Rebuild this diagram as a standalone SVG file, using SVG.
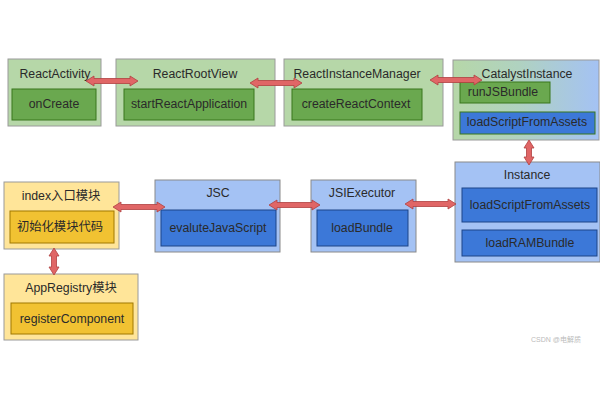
<svg xmlns="http://www.w3.org/2000/svg" width="600" height="400" viewBox="0 0 600 400">
<defs>
<linearGradient id="gcat" x1="0" y1="0" x2="1" y2="0">
<stop offset="0" stop-color="#b6d7a8"/>
<stop offset="0.45" stop-color="#b0d2c0"/>
<stop offset="1" stop-color="#a4c2f4"/>
</linearGradient>
<style>
text{font-family:"Liberation Sans","Noto Sans CJK SC",Arial,sans-serif;font-size:12.3px;text-anchor:middle;dominant-baseline:middle;fill:#2a2a2a}
.go{fill:#b6d7a8;stroke:#9a9a9a;stroke-width:1}
.gi{fill:#6aa84f;stroke:#38761d;stroke-width:1}
.bo{fill:#a4c2f4;stroke:#8a8a8a;stroke-width:1}
.bi{fill:#3c78d8;stroke:#1c4587;stroke-width:1}
.yo{fill:#ffe599;stroke:#9a9a9a;stroke-width:1}
.yi{fill:#f1c232;stroke:#a07800;stroke-width:1}
.arr{fill:#e06666;stroke:#b04040;stroke-width:0.8}
.wm{font-size:7px;fill:#bbbbbb}
</style>
</defs>
<rect width="600" height="400" fill="#ffffff"/>

<g id="reactActivity">
<rect class="go" x="8" y="59" width="93" height="67"/>
<text x="55" y="75">ReactActivity</text>
<rect class="gi" x="12" y="89" width="84" height="31"/>
<text x="54" y="105">onCreate</text>
</g>

<g id="reactRootView">
<rect class="go" x="116" y="59" width="159" height="67"/>
<text x="195" y="75">ReactRootView</text>
<rect class="gi" x="124" y="89" width="130" height="31"/>
<text x="189" y="105">startReactApplication</text>
</g>

<g id="reactInstanceManager">
<rect class="go" x="284" y="59" width="159" height="67"/>
<text x="357" y="75">ReactInstanceManager</text>
<rect class="gi" x="292" y="89" width="130" height="31"/>
<text x="356" y="105">createReactContext</text>
</g>

<g id="catalystInstance">
<rect x="453" y="60" width="146" height="80" fill="url(#gcat)" stroke="#9a9a9a"/>
<text x="527" y="75">CatalystInstance</text>
<rect class="gi" x="460" y="82" width="90" height="21"/>
<text x="503" y="93">runJSBundle</text>
<rect x="460" y="112" width="135" height="22" fill="#3c78d8" stroke="#38761d"/>
<text x="527" y="123">loadScriptFromAssets</text>
</g>

<g id="instance">
<rect class="bo" x="455" y="162" width="145" height="100"/>
<text x="527" y="176">Instance</text>
<rect class="bi" x="462" y="188" width="135" height="34"/>
<text x="530" y="206">loadScriptFromAssets</text>
<rect class="bi" x="462" y="230" width="135" height="26"/>
<text x="530" y="244">loadRAMBundle</text>
</g>

<g id="jsiExecutor">
<rect class="bo" x="311" y="180" width="105" height="72"/>
<text x="362" y="194">JSIExecutor</text>
<rect class="bi" x="317" y="210" width="91" height="36"/>
<text x="362" y="229">loadBundle</text>
</g>

<g id="jsc">
<rect class="bo" x="155" y="180" width="125" height="72"/>
<text x="218" y="194">JSC</text>
<rect class="bi" x="161" y="210" width="115" height="36"/>
<text x="218" y="229">evaluteJavaScript</text>
</g>

<g id="indexModule">
<rect class="yo" x="4" y="182" width="115" height="67"/>
<text x="61" y="197">index入口模块</text>
<rect class="yi" x="10" y="211" width="104" height="32"/>
<text x="60" y="228">初始化模块代码</text>
</g>

<g id="appRegistry">
<rect class="yo" x="4" y="274" width="134" height="66"/>
<text x="71" y="289">AppRegistry模块</text>
<rect class="yi" x="11" y="303" width="122" height="31"/>
<text x="72" y="320">registerComponent</text>
</g>

<g id="connectors">
<path class="arr" d="M86,81 l8,-5 v2.5 h36 v-2.5 l8,5 l-8,5 v-2.5 h-36 v2.5 z"/>
<path class="arr" d="M250,83 l8,-5 v2.5 h36 v-2.5 l8,5 l-8,5 v-2.5 h-36 v2.5 z"/>
<path class="arr" d="M430,80 l8,-5 v2.5 h36 v-2.5 l8,5 l-8,5 v-2.5 h-36 v2.5 z"/>
<path class="arr" d="M113,207 l8,-5 v2.5 h36 v-2.5 l8,5 l-8,5 v-2.5 h-36 v2.5 z"/>
<path class="arr" d="M269,205 l8,-5 v2.5 h35 v-2.5 l8,5 l-8,5 v-2.5 h-35 v2.5 z"/>
<path class="arr" d="M405,204 l8,-5 v2.5 h35 v-2.5 l8,5 l-8,5 v-2.5 h-35 v2.5 z"/>
<path class="arr" d="M529,140 l5,8 h-2.5 v9 h2.5 l-5,8 l-5,-8 h2.5 v-9 h-2.5 z"/>
<path class="arr" d="M54,248 l5,8 h-2.5 v11 h2.5 l-5,8 l-5,-8 h2.5 v-11 h-2.5 z"/>
</g>

<text class="wm" x="556" y="340">CSDN @电解质</text>
</svg>
